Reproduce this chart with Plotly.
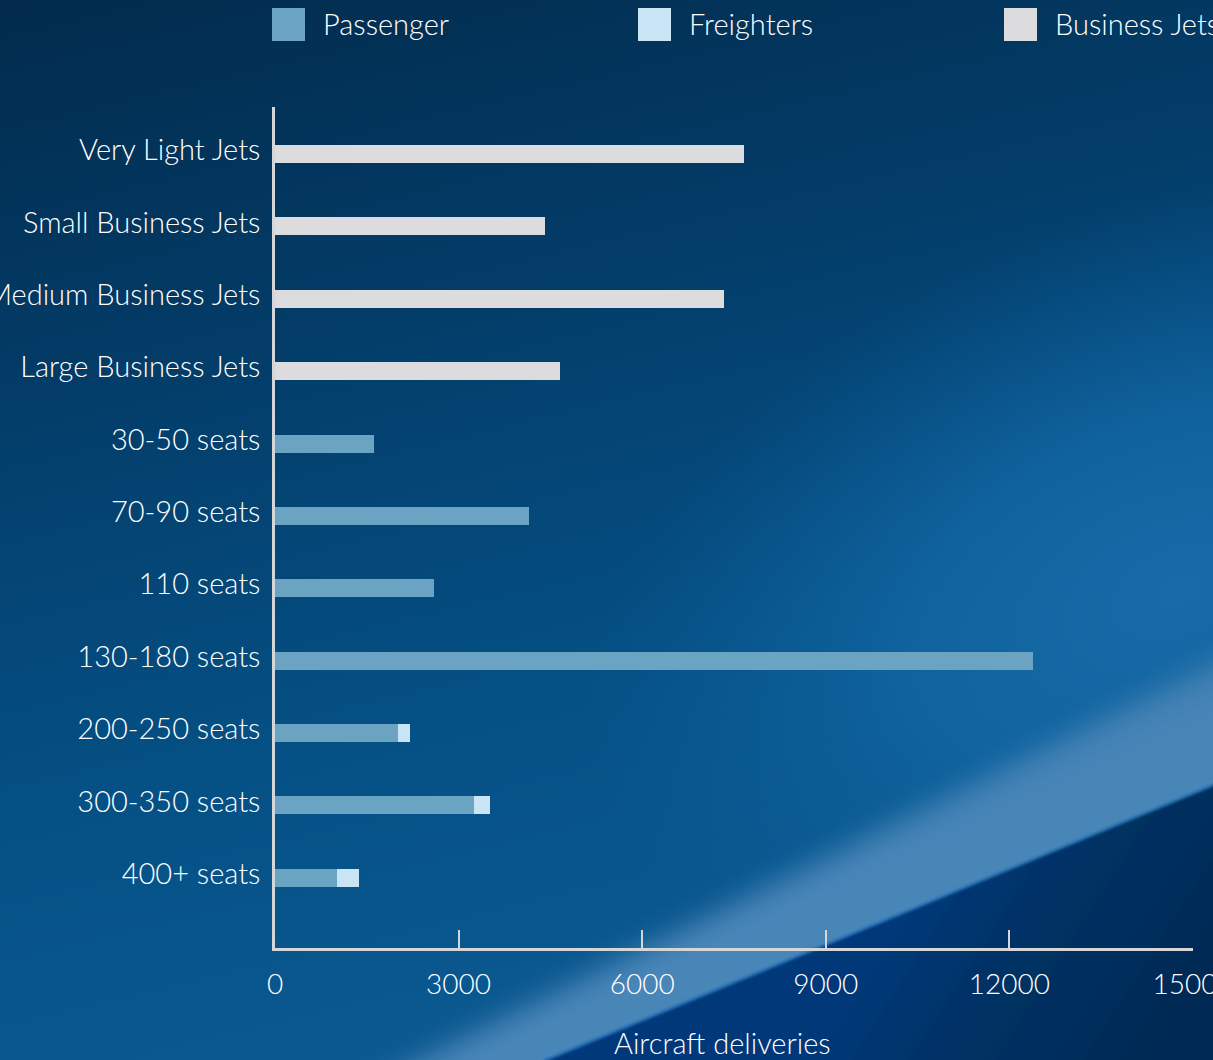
import base64
import plotly.graph_objects as go

# Aircraft categories, top to bottom
categories = [
    "Very Light Jets", "Small Business Jets", "Medium Business Jets", "Large Business Jets",
    "30-50 seats", "70-90 seats", "110 seats", "130-180 seats",
    "200-250 seats", "300-350 seats", "400+ seats",
]
# Deliveries per segment
passenger = [None, None, None, None, 1620, 4150, 2600, 12390, 2010, 3250, 1010]
freighters = [None, None, None, None, None, None, None, None, 200, 260, 360]
business_jets = [7660, 4410, 7340, 4660, None, None, None, None, None, None, None]
x_ticks = [0, 3000, 6000, 9000, 12000, 15000]

series_names = ["Passenger", "Freighters", "Business Jets"]
series_colors = ["#6ba3c3", "#c9e4f5", "#dcdcde"]

W, H = 1213, 1060
L, R, T, B = 275, 20, 107, 112
PW, PH = W - L - R, H - T - B

FONT = "Lato"
TEXT = "#ffffff"
AXIS = "#d4d6d8"


def px_x(p):
    return (p - L) / PW


def px_y(p):
    return (H - B - p) / PH


# Background artwork: deep blue sky with a diagonal light streak
svg = f"""<svg xmlns="http://www.w3.org/2000/svg" width="{W}" height="{H}" viewBox="0 0 {W} {H}">
<defs>
<linearGradient id="base" x1="0" y1="0" x2="250" y2="1060" gradientUnits="userSpaceOnUse">
<stop offset="0" stop-color="#022b4c"/>
<stop offset="0.35" stop-color="#033c68"/>
<stop offset="0.75" stop-color="#055186"/>
<stop offset="1" stop-color="#0a5890"/>
</linearGradient>
<radialGradient id="glow" cx="1180" cy="590" r="620" gradientUnits="userSpaceOnUse"
 gradientTransform="translate(1180 590) rotate(-20) scale(1 0.62) translate(-1180 -590)">
<stop offset="0" stop-color="#176ba8" stop-opacity="1"/>
<stop offset="0.45" stop-color="#1267a4" stop-opacity="0.8"/>
<stop offset="1" stop-color="#0b5d98" stop-opacity="0"/>
</radialGradient>
<linearGradient id="streak" x1="700" y1="760" x2="770" y2="920" gradientUnits="userSpaceOnUse">
<stop offset="0" stop-color="#2c74ad" stop-opacity="0"/>
<stop offset="0.55" stop-color="#3f7fb2" stop-opacity="0.9"/>
<stop offset="1" stop-color="#4a86b8"/>
</linearGradient>
<linearGradient id="dark" x1="900" y1="900" x2="1150" y2="1060" gradientUnits="userSpaceOnUse">
<stop offset="0" stop-color="#05397a"/>
<stop offset="0.5" stop-color="#033062"/>
<stop offset="1" stop-color="#022a55"/>
</linearGradient>
<filter id="soft" x="-30%" y="-30%" width="160%" height="160%"><feGaussianBlur stdDeviation="14"/></filter>
<filter id="edge" x="-10%" y="-10%" width="120%" height="120%"><feGaussianBlur stdDeviation="1.5"/></filter>
</defs>
<rect width="{W}" height="{H}" fill="url(#base)"/>
<rect width="{W}" height="{H}" fill="url(#glow)"/>
<polygon points="340,1100 1300,620 1300,800 560,1100" fill="url(#streak)" filter="url(#soft)"/>
<polygon points="545,1060 1213,785 1300,750 1300,1160 500,1160" fill="url(#dark)" filter="url(#edge)"/>
<line x1="545" y1="1060" x2="1213" y2="785" stroke="#2f8ad4" stroke-width="3" opacity="0.5" filter="url(#edge)"/>
</svg>"""
bg_src = "data:image/svg+xml;base64," + base64.b64encode(svg.encode()).decode()

fig = go.Figure()
fig.add_trace(go.Bar(y=categories, x=passenger, orientation="h", name=series_names[0],
                     marker=dict(color=series_colors[0], line_width=0), width=0.25, showlegend=False))
fig.add_trace(go.Bar(y=categories, x=freighters, orientation="h", name=series_names[1],
                     marker=dict(color=series_colors[1], line_width=0), width=0.25, showlegend=False))
fig.add_trace(go.Bar(y=categories, x=business_jets, orientation="h", name=series_names[2],
                     marker=dict(color=series_colors[2], line_width=0), width=0.25, showlegend=False))

# Legend row: large swatches with labels
shapes = []
annotations = []
swatch_left = [272, 638, 1004]
for name, color, x0 in zip(series_names, series_colors, swatch_left):
    shapes.append(dict(type="rect", xref="paper", yref="paper",
                       x0=px_x(x0), x1=px_x(x0 + 33), y0=px_y(41), y1=px_y(8),
                       fillcolor=color, line_width=0, layer="above"))
    annotations.append(dict(text=name, xref="paper", yref="paper", x=px_x(x0 + 49), y=px_y(24),
                            xanchor="left", yanchor="middle", showarrow=False,
                            font=dict(family=FONT, size=29, color=TEXT, weight=300)))

annotations.append(dict(text="Aircraft deliveries", xref="paper", yref="paper",
                        x=px_x(722), y=px_y(1042), xanchor="center", yanchor="middle",
                        showarrow=False, font=dict(family=FONT, size=29, color=TEXT, weight=300)))

fig.update_layout(
    width=W, height=H,
    margin=dict(l=L, r=R, t=T, b=B, pad=0, autoexpand=False),
    barmode="stack",
    paper_bgcolor="#03345c",
    plot_bgcolor="rgba(0,0,0,0)",
    font=dict(family=FONT, color=TEXT, weight=300),
    showlegend=False,
    shapes=shapes,
    annotations=annotations,
    images=[dict(source=bg_src, xref="paper", yref="paper",
                 x=px_x(0), y=px_y(0), sizex=W / PW, sizey=H / PH,
                 xanchor="left", yanchor="top", sizing="stretch", layer="below")],
    xaxis=dict(
        range=[0, 15000], tickvals=x_ticks, ticktext=[str(v) for v in x_ticks],
        ticks="inside", ticklen=18, tickwidth=2, tickcolor=AXIS,
        showline=True, linecolor=AXIS, linewidth=2.5,
        showgrid=False, zeroline=False, automargin=False,
        ticklabeloverflow="allow",
        tickfont=dict(family=FONT, size=28, color=TEXT, weight=300),
        ticklabelstandoff=10, fixedrange=True,
    ),
    yaxis=dict(
        categoryorder="array", categoryarray=categories,
        range=[10.97, -0.65],
        showline=True, linecolor=AXIS, linewidth=2.5,
        ticks="", showgrid=False, zeroline=False, automargin=False,
        ticklabeloverflow="allow",
        tickfont=dict(family=FONT, size=29, color=TEXT, weight=300),
        ticklabelstandoff=6, ticklabelshift=4, fixedrange=True,
    ),
)

fig.write_html("out.html")
